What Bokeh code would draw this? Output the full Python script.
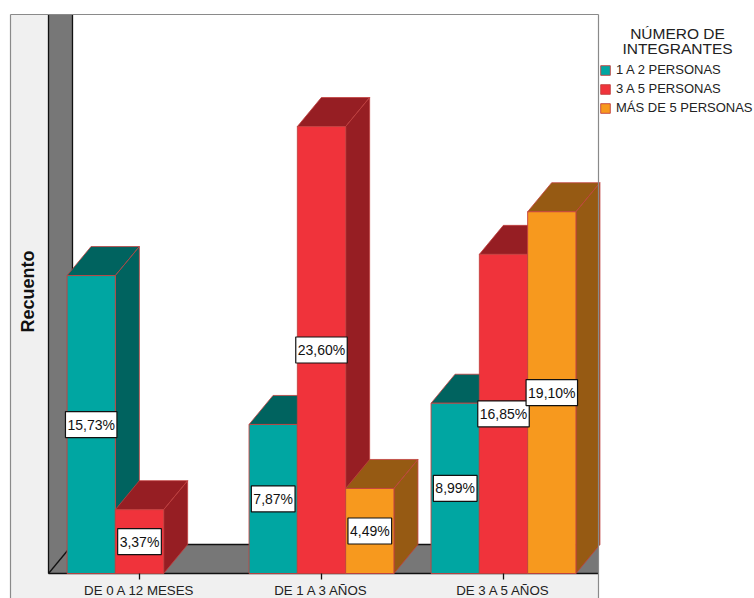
import math
from bokeh.plotting import figure
from bokeh.models import Range1d, ColumnDataSource, Legend, LegendItem, Label
from bokeh.core.properties import value
from bokeh.embed import file_html
from bokeh.resources import INLINE

# ---------------- data ----------------
categories = ["DE 0 A 12 MESES", "DE 1 A 3 AÑOS", "DE 3 A 5 AÑOS"]
series_names = ["1 A 2 PERSONAS", "3 A 5 PERSONAS", "MÁS DE 5 PERSONAS"]
pct_1a2 = [15.73, 7.87, 8.99]
pct_3a5 = [3.37, 23.60, 16.85]
pct_mas5 = [0.0, 4.49, 19.10]
series_values = [pct_1a2, pct_3a5, pct_mas5]
legend_title = ["NÚMERO DE", "INTEGRANTES"]
y_title = "Recuento"

# ---------------- style ----------------
front_colors = ["#00A6A2", "#F0333B", "#F7991E"]
dark_colors = ["#00635F", "#961E23", "#965A13"]
edge_color = "#C2403F"
wall_grey = "#777777"
panel_grey = "#F0F0F0"
FONT = "Liberation Sans"

W, H = 754, 598
PX_PER_PCT = 18.94      # vertical pixels per percent
BASE_PX = 573           # front baseline, px from top
CAT0_PX = 139           # centre of first category, px
CAT_STEP_PX = 182       # distance between categories, px
BAR_PX = 48.3           # bar width, px
DEPTH_X_PX = 24
DEPTH_Y_PX = 29


def X(px):
    return (px - CAT0_PX) / CAT_STEP_PX


def Y(py):
    return (BASE_PX - py) / PX_PER_PCT


p = figure(width=W, height=H, x_range=Range1d(X(0), X(W)), y_range=Range1d(Y(H), Y(0)),
           x_axis_type=None, y_axis_type=None, output_backend="svg",
           toolbar_location=None, min_border=0)
p.outline_line_color = None
p.background_fill_color = "white"
p.border_fill_color = "white"

# ---- panel & 3D walls ----
L_PX, T_PX, R_PX = 10, 14, 598
WALL_X0, WALL_X1 = 48, 48 + DEPTH_X_PX
BACK_BASE = BASE_PX - DEPTH_Y_PX

p.quad(left=[X(L_PX)], right=[X(R_PX)], bottom=[Y(H + 5)], top=[Y(T_PX)],
       fill_color=panel_grey, line_color=None)
# back wall (white)
p.quad(left=[X(WALL_X1)], right=[X(R_PX)], bottom=[Y(BACK_BASE)], top=[Y(T_PX)],
       fill_color="white", line_color=None)
# left wall
p.patch(x=[X(WALL_X0), X(WALL_X1), X(WALL_X1), X(WALL_X0)],
        y=[Y(T_PX), Y(T_PX), Y(BACK_BASE), Y(BASE_PX)],
        fill_color=wall_grey, line_color=None)
# floor
p.patch(x=[X(WALL_X0), X(WALL_X1), X(R_PX), X(R_PX)],
        y=[Y(BASE_PX), Y(BACK_BASE), Y(BACK_BASE), Y(BASE_PX)],
        fill_color=wall_grey, line_color=None)
# wall / floor edges
p.segment(x0=[X(WALL_X0), X(WALL_X1), X(WALL_X1), X(WALL_X0), X(WALL_X0)],
          y0=[Y(T_PX), Y(T_PX), Y(BACK_BASE), Y(BASE_PX), Y(BASE_PX)],
          x1=[X(WALL_X0), X(WALL_X1), X(R_PX), X(WALL_X1), X(R_PX)],
          y1=[Y(BASE_PX), Y(BACK_BASE), Y(BACK_BASE), Y(BACK_BASE), Y(BASE_PX)],
          line_color="#111111", line_width=1.3)

# ---- 3D bars ----
bw = BAR_PX / CAT_STEP_PX
dx = DEPTH_X_PX / CAT_STEP_PX
dy = DEPTH_Y_PX / PX_PER_PCT
legend_renderers = [None, None, None]
lab_x, lab_y, lab_t = [], [], []
for i in range(len(categories)):
    for s, vals in enumerate(series_values):
        v = vals[i]
        if v <= 0:
            continue
        xc = i + (s - 1) * bw
        x0, x1 = xc - bw / 2, xc + bw / 2
        p.patch(x=[x0, x0 + dx, x1 + dx, x1], y=[v, v + dy, v + dy, v],
                fill_color=dark_colors[s], line_color=edge_color, line_width=1, line_alpha=0.8)
        p.patch(x=[x1, x1, x1 + dx, x1 + dx], y=[0, v, v + dy, dy],
                fill_color=dark_colors[s], line_color=edge_color, line_width=1, line_alpha=0.8)
        r = p.quad(left=[x0], right=[x1], bottom=[0], top=[v],
                   fill_color=front_colors[s], line_color=edge_color, line_width=1, line_alpha=0.9)
        if legend_renderers[s] is None:
            legend_renderers[s] = r
        lab_x.append(xc)
        lab_y.append(v / 2)
        lab_t.append(("%.2f" % v).replace(".", ",") + "%")

# right border of panel and top border
p.segment(x0=[X(L_PX), X(L_PX), X(R_PX)], y0=[Y(T_PX), Y(T_PX), Y(T_PX)],
          x1=[X(R_PX), X(L_PX), X(R_PX)], y1=[Y(T_PX), Y(H + 5), Y(H + 5)],
          line_color="#8A8A8A", line_width=1.2)

# value labels
src = ColumnDataSource(dict(x=lab_x, y=lab_y, t=lab_t))
p.text(x="x", y="y", text="t", source=src, text_align="center",
       text_baseline="middle", text_font=value(FONT), text_font_size="14px",
       text_color="#111111", background_fill_color="white",
       border_line_color="#111111", border_line_width=1.2,
       padding=dict(left=2, right=2, top=5, bottom=5))

# category axis
cat_x = list(range(len(categories)))
p.segment(x0=cat_x, y0=[0] * 3, x1=cat_x, y1=[Y(579)] * 3, line_color="#111111", line_width=1.3)
p.text(x=cat_x, y=[Y(590)] * 3, text=categories, text_align="center", text_baseline="middle",
       text_font=value(FONT), text_font_size="13.3px", text_color="#222222")

# y title
p.add_layout(Label(x=X(27), y=Y(291), text=y_title, angle=math.pi / 2, text_align="center",
                   text_baseline="middle", text_font=FONT, text_font_size="18px",
                   text_font_style="bold", text_color="#111111"))

# legend
for k, t in enumerate(legend_title):
    p.add_layout(Label(x=X(677), y=Y(33 + 15 * k), text=t, text_align="center",
                       text_baseline="middle", text_font=FONT, text_font_size="15.5px",
                       text_color="#222222"))

legend = Legend(items=[LegendItem(label=n, renderers=[r]) for n, r in zip(series_names, legend_renderers)],
                location=(599, 483), orientation="vertical", glyph_width=12, glyph_height=12,
                label_height=12, spacing=4, padding=0, margin=0, label_standoff=5,
                label_text_font=FONT, label_text_font_size="13px",
                label_text_color="#222222", border_line_color=None, background_fill_alpha=0)
p.add_layout(legend)

open("out.html", "w").write(file_html(p, INLINE))
